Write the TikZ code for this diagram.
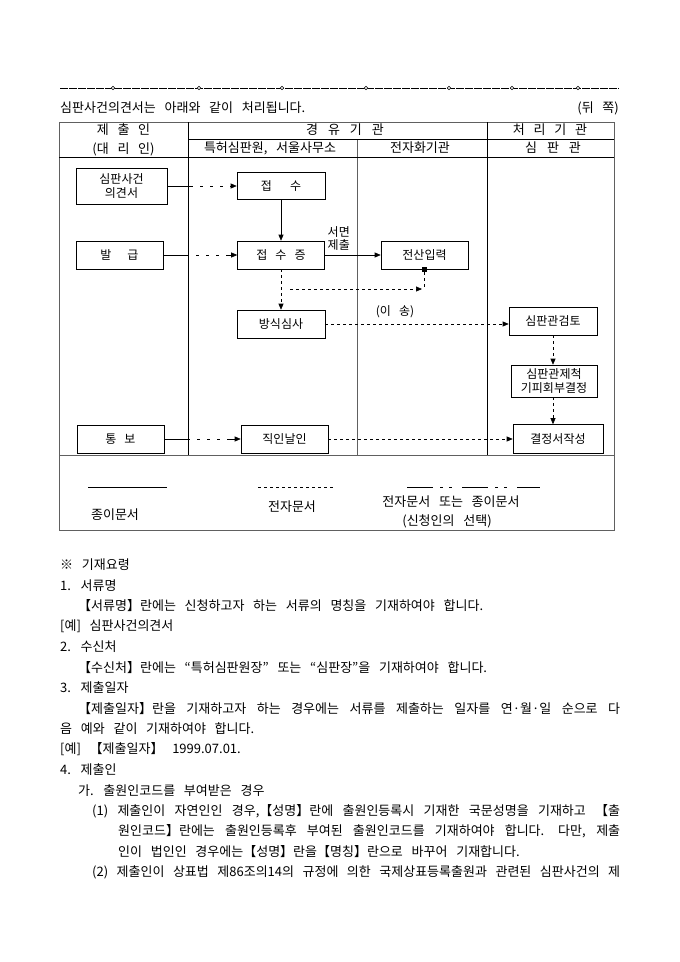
\documentclass[tikz,border=0pt]{standalone}
\usepackage{fontspec}
\setmainfont{Noto Sans CJK KR}[WordSpace=3]
\usetikzlibrary{arrows.meta}
\definecolor{rulegray}{HTML}{606060}

\begin{document}
\begin{tikzpicture}[x=1pt, y=-1pt,
  box/.style={draw, line width=0.6pt, inner sep=0pt, align=center,
    font=\fontsize{12}{14}\selectfont},
  hd/.style={inner sep=0pt, font=\fontsize{13}{15}\selectfont},
  txt/.style={anchor=west, inner sep=0pt, font=\fontsize{13}{15}\selectfont},
  tip/.style={-{Triangle[length=6pt, width=5pt]}},
  paper/.style={line width=0.6pt},
  elec/.style={line width=0.6pt, dash pattern=on 3pt off 3pt},
  mixed/.style={line width=0.6pt,
    dash pattern=on 26pt off 7pt on 3pt off 7pt on 3pt off 7pt on 3pt off 7pt},
  legmix/.style={line width=0.6pt,
    dash pattern=on 26pt off 7pt on 3pt off 6pt on 3pt off 10pt}]
  \useasboundingbox (0,0) rectangle (680,962);

  % ---- cut line and title ----
  \draw[line width=0.5pt, dash pattern=on 8pt off 1pt] (60,88) -- (619,88);
  \foreach \x in {113,199,282,366,449,512,578}
    \draw[line width=0.5pt, fill=white] (\x,88) circle (1.8pt);
  \node[txt] (title) at (60,108) {심판사건의견서는 아래와 같이 처리됩니다.};
  \node[txt, anchor=east] (side) at (619,108) {(뒤 쪽)};

  % ---- table frame ----
  \draw[rulegray, line width=1pt] (59,122) rectangle (614,530);
  \draw[line width=0.6pt] (188,122) -- (188,455);
  \draw[rulegray, line width=1pt] (357,139) -- (357,455);
  \draw[line width=0.6pt] (487,122) -- (487,455);
  \draw[line width=0.6pt] (188,139) -- (614,139);
  \draw[line width=0.6pt] (59,157) -- (614,157);
  \draw[rulegray, line width=1pt] (59,455) -- (614,455);

  % ---- headers ----
  \node[hd] (hA) at (123.5,130) {제 출 인};
  \node[hd] (hA2) at (123.5,149) {(대 리 인)};
  \node[hd] (hB) at (345,130) {경\hspace{10pt}유\hspace{10pt}기\hspace{10pt}관};
  \node[hd] (hC) at (550,130) {처 리 기 관};
  \node[hd] (hB1) at (270,148) {특허심판원, 서울사무소};
  \node[hd] (hB2) at (420,148) {전자화기관};
  \node[hd] (hC1) at (553,148) {심\hspace{10pt}판\hspace{10pt}관};

  % ---- boxes ----
  \node[box, minimum width=91pt, minimum height=36pt] (opin) at (121.5,186) {심판사건\\의견서};
  \node[box, minimum width=88pt, minimum height=27pt] (rcpt) at (281,186) {접\hspace{18pt}수};
  \node[box, minimum width=87pt, minimum height=28pt] (issue) at (119.5,255) {발\hspace{16pt}급};
  \node[box, minimum width=87pt, minimum height=28pt] (recv) at (281,255) {접 수 증};
  \node[box, minimum width=87pt, minimum height=28pt] (input) at (424.5,255) {전산입력};
  \node[box, minimum width=88pt, minimum height=28pt] (form) at (281,324) {방식심사};
  \node[box, minimum width=88pt, minimum height=28pt] (review) at (553,321) {심판관검토};
  \node[box, minimum width=86pt, minimum height=32pt] (excl) at (554,381) {심판관제척\\기피회부결정};
  \node[box, minimum width=90pt, minimum height=29pt] (decide) at (558,439) {결정서작성};
  \node[box, minimum width=87pt, minimum height=28pt] (notify) at (120.5,439) {통\hspace{8pt}보};
  \node[box, minimum width=87pt, minimum height=28pt] (seal) at (284.5,439) {직인날인};

  % ---- connectors ----
  \draw[mixed, tip] (opin) -- (rcpt);
  \draw[paper, tip] (rcpt) -- (recv);
  \draw[mixed, tip] (issue) -- (recv);
  \draw[paper, tip] (recv) -- (input)
    node[pos=0.25, above=4pt, align=center, inner sep=0pt,
      font=\fontsize{12}{13}\selectfont] (paperlbl) {서면\\제출};
  \node[fill, minimum size=5pt, inner sep=0pt] (sq) at (input.south) {};
  \coordinate (sqend) at (424.5,287);
  \draw[elec] (sq) -- (sqend);
  \coordinate (ebeg) at (290,289);
  \coordinate (ejoin) at (422,289);
  \draw[elec, tip] (ebeg) -- (ejoin);
  \draw[elec, tip] (recv) -- (form);
  \draw[elec, tip] (form.east) -- (form.east -| review.west)
    node[pos=0.38, above=6pt, inner sep=0pt,
      font=\fontsize{12}{13}\selectfont] (sendlbl) {(이 송)};
  \draw[elec, tip] (review.south) -- (review.south |- excl.north);
  \draw[elec, tip] (review.south |- excl.south) -- (review.south |- decide.north);
  \draw[mixed, tip] (notify) -- (seal);
  \draw[elec, tip] (seal) -- (decide);

  % ---- legend ----
  \draw[paper] (88,487) -- (167,487);
  \draw[elec] (258,487) -- (334,487);
  \draw[legmix] (407,487) -- (540,487);
  \node[hd] (lgA) at (115,515) {종이문서};
  \node[hd] (lgB) at (292,507) {전자문서};
  \node[hd] (lgC) at (451,502) {전자문서 또는 종이문서};
  \node[hd] (lgC2) at (447,521) {(신청인의 선택)};

  % ---- notes ----
  \node[txt] (n0) at (60,565) {※ 기재요령};
  \node[txt] (n1) at (60,585.5) {1. 서류명};
  \node[txt] (n2) at (78,606) {【서류명】란에는 신청하고자 하는 서류의 명칭을 기재하여야 합니다.};
  \node[txt] (n3) at (60,626.5) {[예] 심판사건의견서};
  \node[txt] (n4) at (60,647) {2. 수신처};
  \node[txt] (n5) at (78,667.5) {【수신처】란에는 “특허심판원장” 또는 “심판장”을 기재하여야 합니다.};
  \node[txt] (n6) at (60,688) {3. 제출일자};
  \node[txt] (n7) at (78,708.5) {\makebox[542pt][s]{【제출일자】란을 기재하고자 하는 경우에는 서류를 제출하는 일자를 연·월·일 순으로 다}};
  \node[txt] (n8) at (60,729) {음 예와 같이 기재하여야 합니다.};
  \node[txt] (n9) at (60,749.5) {[예] 【제출일자】 1999.07.01.};
  \node[txt] (n10) at (60,770) {4. 제출인};
  \node[txt] (n11) at (78,790.5) {가. 출원인코드를 부여받은 경우};
  \node[txt] (n12) at (92,811) {\makebox[528pt][s]{(1) 제출인이 자연인인 경우,【성명】란에 출원인등록시 기재한 국문성명을 기재하고 【출}};
  \node[txt] (n13) at (118,831.5) {\makebox[502pt][s]{원인코드】란에는 출원인등록후 부여된 출원인코드를 기재하여야 합니다. 다만, 제출}};
  \node[txt] (n14) at (118,852) {인이 법인인 경우에는【성명】란을【명칭】란으로 바꾸어 기재합니다.};
  \node[txt] (n15) at (92,872.5) {\makebox[528pt][s]{(2) 제출인이 상표법 제86조의14의 규정에 의한 국제상표등록출원과 관련된 심판사건의 제}};
\end{tikzpicture}
\end{document}
